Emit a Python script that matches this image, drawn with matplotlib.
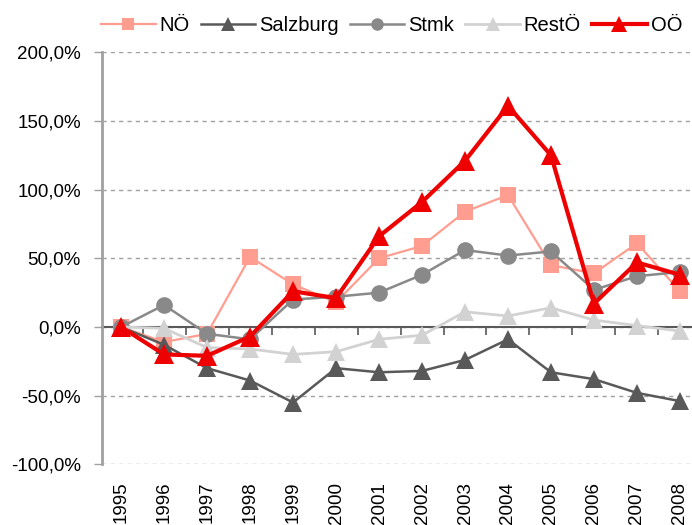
import matplotlib
matplotlib.use("Agg")
import matplotlib.pyplot as plt
from matplotlib.ticker import FixedLocator, FuncFormatter

plt.rcParams['font.family'] = ['Liberation Sans', 'DejaVu Sans']

years = ['1995', '1996', '1997', '1998', '1999', '2000', '2001',
         '2002', '2003', '2004', '2005', '2006', '2007', '2008']
noe = [0, -11, -5, 51, 31, 18, 50, 59, 84, 96, 45, 39, 61, 26]
salzburg = [0, -13, -30, -39, -55, -30, -33, -32, -24, -9, -33, -38, -48, -54]
stmk = [0, 16, -5, -9, 20, 22, 25, 38, 56, 52, 55, 27, 37, 40]
resto = [0, -1, -15, -16, -20, -18, -9, -6, 11, 8, 14, 5, 1, -3]
ooe = [0, -20, -21, -7, 26, 21, 66, 91, 121, 161, 125, 17, 47, 38]

series_names = ['NÖ', 'Salzburg', 'Stmk', 'RestÖ', 'OÖ']
series_vals = [noe, salzburg, stmk, resto, ooe]
colors = ['#FF9E90', '#595959', '#898989', '#D2D2D2', '#EE0000']
markers = ['s', '^', 'o', '^', '^']
msizes = [12, 12.5, 12, 13, 15]
lwidths = [1.6, 1.8, 1.8, 2.0, 3.0]

fig = plt.figure(figsize=(6.92, 5.25), dpi=100)
ax = fig.add_axes([0.147, 0.1156, 0.853, 0.7848])

x = list(range(len(years)))
for name, vals, c, m, ms, lw in zip(series_names, series_vals, colors, markers, msizes, lwidths):
    ax.plot(x, vals, color=c, marker=m, markersize=ms, markeredgewidth=0,
            linewidth=lw, label=name, solid_joinstyle='miter', clip_on=False)

ax.set_xlim(-0.45, 13.28)
ax.set_ylim(-100, 200)
ax.yaxis.set_major_locator(FixedLocator([-100, -50, 0, 50, 100, 150, 200]))
ax.yaxis.set_major_formatter(FuncFormatter(lambda v, p: f"{v:.1f}%".replace('.', ',')))
ax.tick_params(axis='y', direction='out', length=6, width=1, color='#A0A0A0',
               labelsize=13.5, pad=9, labelcolor='black')
ax.yaxis.grid(True, color='#A0A0A0', linestyle=(0, (3, 3)), linewidth=1)
ax.set_axisbelow(True)

ax.set_xticks(x)
ax.set_xticklabels(years, rotation=90)
ax.tick_params(axis='x', length=0, labelsize=13.5, pad=12.5)

for s in ['top', 'right', 'bottom']:
    ax.spines[s].set_visible(False)
ax.spines['left'].set_color('#A0A0A0')
ax.spines['left'].set_linewidth(2)

# category axis at 0 %
sec = ax.secondary_xaxis(1 / 3)
sec.set_xticks([i + 0.5 for i in range(len(years) - 1)])
sec.set_xticklabels([])
sec.tick_params(axis='x', direction='out', length=6, width=1.2, color='#595959')
sec.spines['bottom'].set_color('#595959')
sec.spines['bottom'].set_linewidth(1.5)
sec.set_zorder(1.5)

leg = fig.legend(loc='center', bbox_to_anchor=(0.566, 0.952), ncol=5, frameon=False,
                 fontsize=14.5, handlelength=2.7, handletextpad=0.2,
                 columnspacing=0.55, markerscale=0.75, borderaxespad=0)

fig.savefig('out.png', dpi=100)
